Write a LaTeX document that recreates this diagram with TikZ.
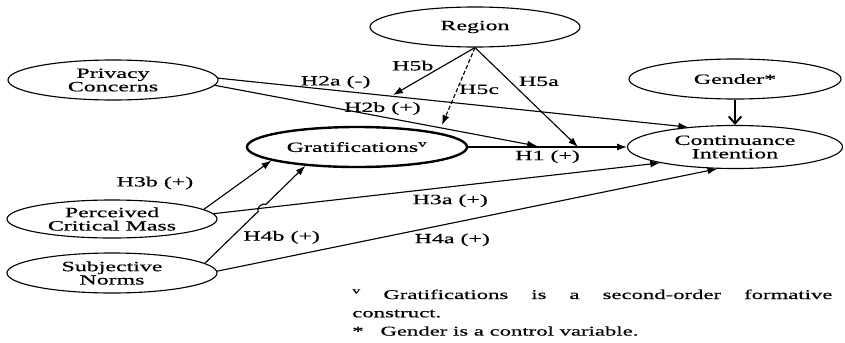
\documentclass[tikz,border=0pt]{standalone}
\usepackage{fontspec}
\setmainfont{Liberation Serif}[FakeStretch=1.7, FakeBold=0.6]
\usetikzlibrary{shapes.geometric,arrows.meta}
\setlength{\parindent}{0pt}

\begin{document}
\begin{tikzpicture}[
    x=0.025cm, y=-0.025cm,
    every node/.style={anchor=center, font=\fontsize{10}{9.5}\selectfont},
    construct/.style={draw, ellipse, inner sep=0pt, align=center, line width=0.8pt, minimum width=5.25cm, minimum height=1cm},
    focal/.style={construct, line width=1.7pt, minimum width=5.5cm},
    hyp/.style={inner sep=1pt},
    arrow/.style={-{Latex[length=7pt, width=5pt]}, line width=0.8pt},
    control/.style={-{Straight Barb[length=5pt, width=9pt]}, line width=1.4pt},
    note/.style={anchor=base west, inner sep=0pt, text width=12cm, align=justify, font=\fontsize{9.5}{13}\selectfont}
    ]
\useasboundingbox (0,0) rectangle (845,342);

% Constructs
\node[construct] (reg) at (475,27) {Region};
\node[construct] (pc) at (113,80) {Privacy\\Concerns};
\node[construct, minimum width=5.3cm] (gen) at (735,79) {Gender*};
\node[focal] (grat) at (357,147) {Gratifications\textsuperscript{v}};
\node[construct, minimum width=5.375cm, minimum height=1.075cm] (ci) at (735,147) {Continuance\\Intention};
\node[construct, minimum height=0.95cm] (pcm) at (112,219) {Perceived\\Critical Mass};
\node[construct] (sn) at (112,273) {Subjective\\Norms};

% Points where paths end on other paths
\coordinate (h5b) at (393,95);
\coordinate (h5c) at (442,125);
\coordinate (h5a) at (578,147);
\coordinate (h2b) at (537,146);
\coordinate (hop1) at (258.2,211.4);
\coordinate (hop2) at (265.6,204.6);

% Direct paths
\draw[arrow] (grat) to node[hyp, pos=0.5, below=1pt] (l1) {H1 (+)} (ci);
\draw[arrow] (pc.1) to node[hyp, pos=0.25, above] (l2a) {H2a (-)} (ci.157);
\draw[arrow] (pc.-3) to node[hyp, pos=0.52, above] (l2b) {H2b (+)} (h2b);
\draw[arrow] (pcm.3) to node[hyp, pos=0.53, below=4pt] (l3a) {H3a (+)} (ci.192);
\draw[arrow] (pcm.6) to (grat.189);
\node[hyp] (l3b) at (155,183) {H3b (+)};
\draw[arrow] (sn.1) to node[hyp, pos=0.47, below=6pt] (l4a) {H4a (+)} (ci.231);
\draw[arrow] (sn.6) -- node[hyp, pos=0.5, right=7pt] (l4b) {H4b (+)} (hop1) to[bend left=90] (hop2) -- (grat.200);

% Moderation and control
\draw[arrow] (reg.south) to node[hyp, pos=0.38, left=6pt] (l5b) {H5b} (h5b);
\draw[arrow, dash pattern=on 3pt off 1.5pt] (reg.south) to node[hyp, pos=0.54, right] (l5c) {H5c} (h5c);
\draw[arrow] (reg.south) to node[hyp, pos=0.34, right=5pt] (l5a) {H5a} (h5a);
\draw[control] (gen) to (ci);

% Notes
\node[note] (fn) at (352,299) {\textsuperscript{v}\hspace{16pt}Gratifications is a second-order formative\linebreak construct.\par *\hspace{12pt}Gender is a control variable.};

\end{tikzpicture}
\end{document}
